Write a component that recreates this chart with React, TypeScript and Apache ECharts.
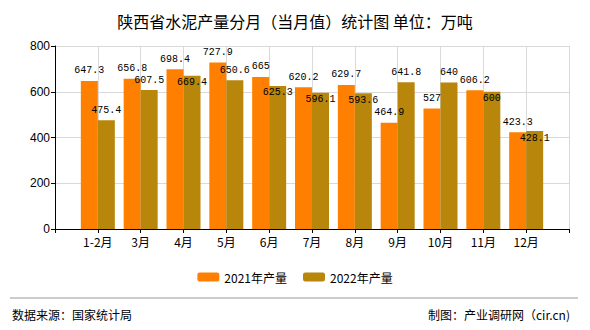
import React, { useEffect, useRef } from "react";
import * as echarts from "echarts";

const categories = ["", "1-2月", "3月", "4月", "5月", "6月", "7月", "8月", "9月", "10月", "11月", "12月", ""];
const values2021 = [null, 647.3, 656.8, 698.4, 727.9, 665, 620.2, 629.7, 464.9, 527, 606.2, 423.3, null];
const values2022 = [null, 475.4, 607.5, 669.4, 650.6, 625.3, 596.1, 593.6, 641.8, 640, 600, 428.1, null];
const yTicks = [0, 200, 400, 600, 800];

export default function App() {
  const ref = useRef<HTMLDivElement>(null);
  useEffect(() => {
    const chart = echarts.init(ref.current!, null, { renderer: "svg" });
    const gridTop = 46;
    const gridBottom = 101;
    const plotH = 330 - gridTop - gridBottom;
    const yMax = yTicks[yTicks.length - 1];
    const pxPerUnit = plotH / yMax;
    const labelBase = {
      show: true,
      fontFamily: "Liberation Mono, DejaVu Sans Mono, monospace",
      fontSize: 10,
      color: "#000",
    };
    // 2022 labels that would collide with the 2021 label are moved inside the bar top
    const data2022 = values2022.map((v, i) => {
      const a = values2021[i];
      if (v == null || a == null) return v;
      const collide = Math.abs(a - v) * pxPerUnit < 10.5;
      if (!collide) return v;
      return { value: v, label: { position: "insideTop", distance: 2 } };
    });
    chart.setOption({
      animation: false,
      backgroundColor: "#fff",
      title: {
        text: "陕西省水泥产量分月（当月值）统计图 单位：万吨",
        left: "center",
        top: 8,
        textStyle: { fontSize: 16, fontWeight: "normal", color: "#000", fontFamily: "Noto Sans CJK SC, sans-serif" },
      },
      legend: {
        bottom: 42,
        left: "center",
        itemWidth: 22,
        itemHeight: 9,
        itemGap: 16,
        textStyle: { fontSize: 12, color: "#000", fontFamily: "Noto Sans CJK SC, sans-serif" },
        data: ["2021年产量", "2022年产量"],
      },
      grid: { left: 55, right: 21, top: gridTop, bottom: gridBottom },
      xAxis: {
        type: "category",
        data: categories,
        boundaryGap: false,
        axisLine: { lineStyle: { color: "#000" } },
        axisTick: { show: true, length: 4, lineStyle: { color: "#000" } },
        axisLabel: { color: "#000", fontSize: 12, margin: 6, fontFamily: "Noto Sans CJK SC, sans-serif" },
        splitLine: { show: true, lineStyle: { color: "#d9d9d9" } },
      },
      yAxis: {
        type: "value",
        min: yTicks[0],
        max: yMax,
        interval: 200,
        axisLine: { show: true, lineStyle: { color: "#000" } },
        axisTick: { show: true, length: 4, lineStyle: { color: "#000" } },
        axisLabel: { color: "#000", fontSize: 12, margin: 5, fontFamily: "Liberation Sans, sans-serif" },
        splitLine: { show: true, lineStyle: { color: "#d9d9d9" } },
      },
      series: [
        {
          name: "2021年产量",
          type: "bar",
          data: values2021,
          barWidth: 17,
          barGap: "0%",
          itemStyle: { color: "#FF8000" },
          label: { ...labelBase, position: "top", distance: 5 },
        },
        {
          name: "2022年产量",
          type: "bar",
          data: data2022,
          barWidth: 17,
          barGap: "0%",
          itemStyle: { color: "#B8860B" },
          label: { ...labelBase, position: "top", distance: 5 },
        },
      ],
      graphic: [
        { type: "line", shape: { x1: 10, y1: 298, x2: 578, y2: 298 }, style: { stroke: "#999", lineWidth: 1 } },
        {
          type: "text",
          left: 12,
          top: 308,
          style: { text: "数据来源：国家统计局", fontSize: 12, fill: "#000", fontFamily: "Noto Sans CJK SC, sans-serif" },
        },
        {
          type: "text",
          right: 20,
          top: 308,
          style: { text: "制图：产业调研网（cir.cn)", fontSize: 12, fill: "#000", fontFamily: "Noto Sans CJK SC, sans-serif" },
        },
      ],
    });
    return () => chart.dispose();
  }, []);
  return <div ref={ref} style={{ width: 590, height: 330, position: "absolute", left: 0, top: 0 }} />;
}
